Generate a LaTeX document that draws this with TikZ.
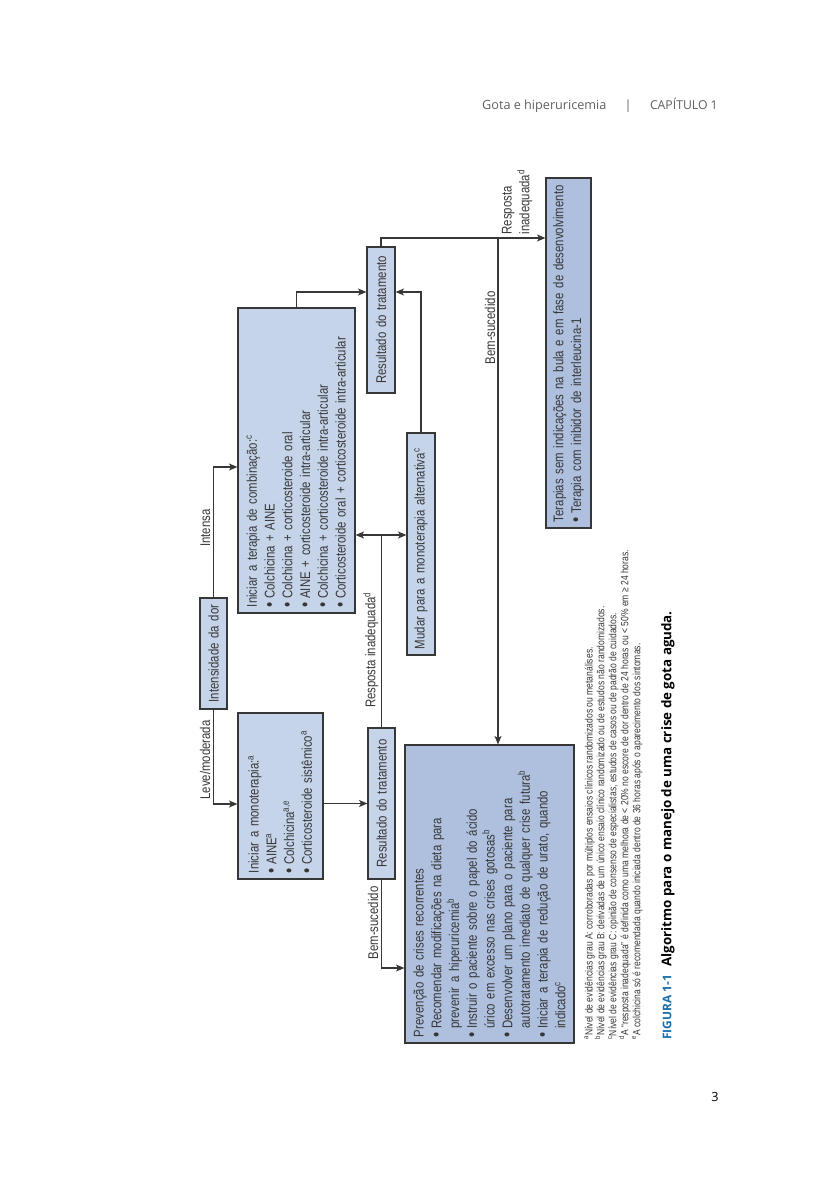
\documentclass[tikz,border=0pt]{standalone}
\usepackage{fontspec}
\setmainfont{Liberation Sans}
\newfontfamily\cond[FakeStretch=0.81]{Liberation Sans}
\newfontfamily\opensans{Open Sans}
\usetikzlibrary{arrows.meta,positioning}
\definecolor{cinza}{RGB}{55,55,55}
\definecolor{cinzacab}{RGB}{95,95,95}
\definecolor{azulcx}{RGB}{198,212,234}
\definecolor{azulesc}{RGB}{174,192,222}
\definecolor{azulfig}{RGB}{25,110,170}
\newcommand{\bl}{\makebox[6pt][l]{\raisebox{-0.7pt}{\fontsize{13}{13}\selectfont\textbullet}}}
\newcommand{\cn}{\hspace*{6pt}}
\begin{document}
\begin{tikzpicture}[x=0.025cm,y=0.025cm,
  caixa/.style={draw=cinza,fill=azulcx,line width=0.8pt,inner xsep=0.15cm,inner ysep=0pt,
    font=\cond\fontsize{10}{12.6}\selectfont,text=cinza},
  rotulo/.style={font=\cond\fontsize{10}{12.6}\selectfont,text=cinza,inner sep=1pt},
  seta/.style={draw=cinza,line width=0.8pt,-{Stealth[length=6pt,width=5pt,inset=1.5pt]}},
  linha/.style={draw=cinza,line width=0.8pt}]
\useasboundingbox (0,0) rectangle (825,-1200);

\node[anchor=east,inner sep=0,text=cinzacab,font=\opensans\fontsize{9}{11}\selectfont] (cabecalho) at (718,-105)
  {Gota e hiperuricemia\hspace{13pt}|\hspace{13pt}{\fontsize{8.7}{10}\selectfont CAPÍTULO 1}};
\node[inner sep=0,font=\opensans\fontsize{9}{11}\selectfont] (pagina) at (715,-1097) {3};

\begin{scope}[shift={(620,-1060)},rotate=90,transform shape]
\node[caixa,minimum width=2.775cm,minimum height=0.675cm,text width=2.475cm,align=center] (int) at (406.5,406.5)
  {Intensidade da dor};
\node[caixa,minimum width=4.15cm,minimum height=2.125cm,text width=3.85cm,align=left] (mono) at (264,339.5)
  {Iniciar a monoterapia:\textsuperscript{a}\\
   \bl AINE\textsuperscript{a}\\
   \bl Colchicina\textsuperscript{a,e}\\
   \bl Corticosteroide sistêmico\textsuperscript{a}};
\node[caixa,minimum width=7.625cm,minimum height=2.925cm,text width=7.325cm,align=left] (comb) at (599.5,323.5)
  {Iniciar a terapia de combinação:\textsuperscript{c}\\
   \bl Colchicina + AINE\\
   \bl Colchicina + corticosteroide oral\\
   \bl AINE + corticosteroide intra-articular\\
   \bl Colchicina + corticosteroide intra-articular\\
   \bl Corticosteroide oral + corticosteroide intra-articular};
\node[caixa,minimum width=3.775cm,minimum height=0.675cm,text width=3.475cm,align=center] (res1) at (256.5,238.5)
  {Resultado do tratamento};
\node[caixa,minimum width=3.65cm,minimum height=0.7cm,text width=3.35cm,align=center] (res2) at (740,239)
  {Resultado do tratamento};
\node[caixa,minimum width=5.55cm,minimum height=0.7cm,text width=5.25cm,align=left] (mudar) at (516,199)
  {Mudar para a monoterapia alternativa\textsuperscript{c}};
\node[caixa,fill=azulesc,minimum width=7.45cm,minimum height=4.225cm,text width=7.15cm,align=left] (prev) at (166,130.5)
  {Prevenção de crises recorrentes\\
   \bl Recomendar modificações na dieta para\\
   \cn prevenir a hiperuricemia\textsuperscript{b}\\
   \bl Instruir o paciente sobre o papel do ácido\\
   \cn úrico em excesso nas crises gotosas\textsuperscript{b}\\
   \bl Desenvolver um plano para o paciente para\\
   \cn autotratamento imediato de qualquer crise futura\textsuperscript{b}\\
   \bl Iniciar a terapia de redução de urato, quando\\
   \cn indicado\textsuperscript{c}};
\node[caixa,fill=azulesc,minimum width=8.75cm,minimum height=1.125cm,text width=8.45cm,align=left] (ter) at (707,51.5)
  {Terapias sem indicações na bula e em fase de desenvolvimento\\
   \bl Terapia com inibidor de interleucina-1};

\coordinate (lv) at (256,406.5);
\coordinate (it) at (593,406.5);
\coordinate (bs) at (92,238.5);
\coordinate (ri) at (525,238.5);
\coordinate (c2) at (768,323.5);
\coordinate (m2) at (768,199);
\coordinate (r2) at (822,239);
\coordinate (b2) at (822,122);

\draw[seta] (int.west) -- (lv) -- (lv |- mono.north);
\draw[seta] (int.east) -- (it) -- (it |- comb.north);
\draw[seta] (res1.north |- mono.south) -- (res1.north);
\draw[seta] (res1.west) -- (bs) -- (bs |- prev.north);
\draw[linha] (res1.east) -- (ri);
\draw[seta,{Stealth[length=6pt,width=5pt,inset=1.5pt]}-{Stealth[length=6pt,width=5pt,inset=1.5pt]}] (ri |- comb.south) -- (ri |- mudar.north);
\draw[seta] (comb.east) -- (c2) -- (c2 |- res2.north);
\draw[seta] (mudar.east) -- (m2) -- (m2 |- res2.south);
\draw[seta] (res2.east) -- (r2) -- (r2 |- ter.north);
\draw[seta] (b2) -- (b2 -| prev.east);

\node[rotulo,anchor=south] (lleve) at (300,408) {Leve/moderada};
\node[rotulo,anchor=south] (lintensa) at (532,408) {Intensa};
\node[rotulo,anchor=south] (lbem1) at (137,240) {Bem-sucedido};
\node[rotulo,anchor=south] (lresp1) at (410,240) {Resposta inadequada\textsuperscript{d}};
\node[rotulo,anchor=south] (lbem2) at (732,123) {Bem-sucedido};
\node[rotulo,anchor=south west,align=left] (lresp2) at (824,86) {Resposta\\inadequada\textsuperscript{d}};

\node[anchor=north west,inner sep=0,align=left,text=cinza,font=\cond\fontsize{7.5}{8.5}\selectfont] (notas) at (20,36)
  {\textsuperscript{a}Nível de evidências grau A: corroboradas por múltiplos ensaios clínicos randomizados ou metanálises.\\
   \textsuperscript{b}Nível de evidências grau B: derivadas de um único ensaio clínico randomizado ou de estudos não randomizados.\\
   \textsuperscript{c}Nível de evidências grau C: opinião de consenso de especialistas, estudos de casos ou de padrão de cuidados.\\
   \textsuperscript{d}A “resposta inadequada” é definida como uma melhora de < 20\% no escore de dor dentro de 24 horas ou < 50\% em ≥ 24 horas.\\
   \textsuperscript{e}A colchicina só é recomendada quando iniciada dentro de 36 horas após o aparecimento dos sintomas.};
\node[anchor=west,inner sep=0,font=\opensans\bfseries\fontsize{9.5}{11}\selectfont] (legenda) at (20,-48)
  {{\color{azulfig}\fontsize{8.5}{10}\selectfont FIGURA 1-1}\hspace{6pt}Algoritmo para o manejo de uma crise de gota aguda.};
\end{scope}
\end{tikzpicture}
\end{document}
